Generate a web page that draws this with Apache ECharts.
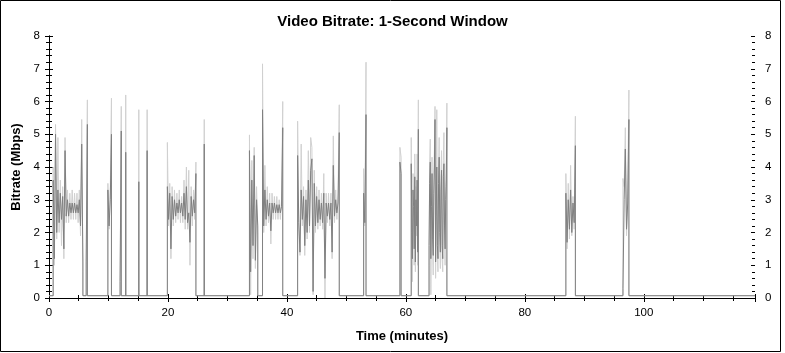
<!DOCTYPE html>
<html><head><meta charset="utf-8">
<script src="https://cdn.jsdelivr.net/npm/echarts@6/dist/echarts.min.js"></script>
<style>html,body{margin:0;padding:0;background:#fff}#c{width:785px;height:353px}</style>
</head><body><div id="c"></div>
<script>
// ---- data ----
const xMax = 118.7;          // minutes
const baseLevel = 0.07;      // idle bitrate between bursts
const yLabels = ['0','1','2','3','4','5','6','7','8'];
const xLabels = ['0','20','40','60','80','100'];

// burst start times (minutes) and sample spacing (minutes)
const burstStarts = [0.7, 6.25, 9.9, 11.95, 12.9, 15.1, 16.5, 19.9, 26.1, 33.7, 35.9, 41.8, 52.9, 59.0, 60.9, 63.9, 86.9, 96.5];
const burstSteps  = [0.2, 0.2, 0.2, 0.2, 0.2, 0.2, 0.2, 0.2, 0.2, 0.2, 0.2, 0.2, 0.2, 0.2, 0.1, 0.1, 0.2, 0.2];

// dark series (1-second bitrate), light series (peak) per burst
const aDark  = [3.6,1.2,5.0,2.0,3.3,2.3,3.2,2.4,3.1,1.5,4.5,2.5,3.0,2.5,2.9,2.6,2.9,2.6,2.9,2.6,2.85,2.6,3.0,2.2,4.7,1.1];
const aLight = [4.0,1.0,5.3,1.8,4.9,2.0,3.6,1.6,3.4,1.2,4.9,2.3,3.3,2.3,3.2,2.4,3.3,2.4,3.2,2.4,3.2,2.3,3.3,1.9,5.45,0.8];
const a2Dark = [1.1,5.3];          const a2Light = [0.9,6.05];
const s1Dark = [3.3,2.2,3.0,5.0];  const s1Light = [3.5,2.1,3.2,6.1];
const s2Dark = [0.5,5.1];          const s2Light = [0.4,5.85];
const s3Dark = [4.45];             const s3Light = [6.2];
const s4Dark = [3.55];             const s4Light = [5.75];
const s5Dark = [4.5];              const s5Light = [5.75];
const bDark  = [3.4,2.4,3.2,1.5,3.1,2.4,3.0,2.5,2.9,2.6,3.0,2.6,2.9,2.5,3.2,2.4,3.4,2.3,2.6,1.7,3.1,2.5,3.0,2.6,3.8];
const bLight = [4.75,2.2,3.5,1.2,3.4,2.2,3.3,2.3,3.2,2.4,3.3,2.3,3.1,2.3,3.6,2.1,4.0,2.1,3.9,1.0,3.4,2.2,3.3,2.4,4.15];
const s6Dark = [4.7];              const s6Light = [5.45];
const c1Dark  = [4.5,0.8,3.6,1.6,4.35,1.15,3.0,2.2];
const c1Light = [4.98,0.1,4.2,1.2,4.6,0.9,3.4,1.9];
const c2Dark  = [5.75,2.2,3.3,2.4,3.0,2.5,2.9,2.05,2.9,2.6,2.9,2.6,2.85,2.6,2.85,2.6,2.8,5.2];
const c2Light = [7.15,2.0,4.05,2.2,3.4,2.3,3.2,1.65,3.2,2.4,3.1,2.4,3.1,2.4,3.0,2.4,3.0,6.0];
const c3Dark  = [4.35,2.3,1.4,3.3,2.4,3.1,1.6,3.0,2.0,3.6,2.2,3.9,4.25,0.2,3.5,2.2,3.1,2.3,3.0,2.4,2.9,2.3,3.2,0.6,2.9,2.5,2.9,2.4,2.9,1.4,4.05,2.5,3.0,2.6,2.9,5.05];
const c3Light = [5.4,2.1,1.3,4.7,2.2,3.4,1.3,3.3,1.8,4.5,2.0,4.9,4.6,0.1,3.9,2.0,3.4,2.1,3.3,2.2,3.2,2.1,3.8,0.0,3.2,2.3,3.2,2.2,3.2,1.2,4.95,2.3,3.3,2.4,3.2,5.9];
const s7Dark = [3.2,2.3,5.6];      const s7Light = [3.95,2.2,7.2];
const d0Dark = [4.15,3.8];         const d0Light = [4.6,4.3];
const d1Dark  = [4.1,2.0,1.2,3.3,2.8,1.5,3.7,1.1,3.0,2.2,3.6,1.4,5.15];
const d1Light = [4.9,1.8,0.5,3.8,3.1,1.0,4.4,0.8,3.4,1.9,4.4,1.0,6.05];
const d2Dark  = [1.6,3.5,4.15,1.2,2.8,3.8,1.8,1.3,3.2,4.0,5.45,1.1,2.5,4.0,1.6,1.2,3.5,4.3,2.0,1.4,3.3,3.9,1.6,1.2,3.7,4.1,2.2,1.5,3.0,3.6,5.2];
const d2Light = [1.0,4.0,4.85,0.1,3.1,4.3,1.5,0.7,3.6,4.5,5.85,0.6,2.8,5.75,1.3,0.8,3.9,4.9,1.7,0.9,3.8,4.5,1.2,0.8,4.2,5.05,1.9,1.0,3.4,4.2,5.95];
const eDark  = [3.2,1.7,3.0,2.1,3.3,2.0,2.9,2.3,4.65];
const eLight = [3.8,1.5,3.5,1.8,4.05,1.9,3.1,2.1,5.55];
const fDark  = [0.3,3.0,4.55,2.1,2.9,5.45];
const fLight = [3.65,3.4,5.2,1.9,3.2,6.35];

const darkBursts  = [aDark,a2Dark,s1Dark,s2Dark,s3Dark,s4Dark,s5Dark,bDark,s6Dark,c1Dark,c2Dark,c3Dark,s7Dark,d0Dark,d1Dark,d2Dark,eDark,fDark];
const lightBursts = [aLight,a2Light,s1Light,s2Light,s3Light,s4Light,s5Light,bLight,s6Light,c1Light,c2Light,c3Light,s7Light,d0Light,d1Light,d2Light,eLight,fLight];

function build(bursts){
  const pts = [[0, baseLevel]];
  bursts.forEach((vals, k) => {
    const t0 = burstStarts[k], st = burstSteps[k];
    pts.push([t0, baseLevel]);
    vals.forEach((v, i) => pts.push([+(t0 + i*st).toFixed(3), v]));
    pts.push([+(t0 + (vals.length-1)*st).toFixed(3), baseLevel]);
  });
  pts.push([xMax, baseLevel]);
  return pts;
}

const FONT = "'Liberation Sans', Arial, sans-serif";
const chart = echarts.init(document.getElementById('c'), null, {renderer:'canvas'});

const xBase = {type:'value', min:0, max:xMax, interval:20, gridIndex:0};
const yBase = {type:'value', min:0, max:8, interval:1, gridIndex:0};
const noLabel = {show:false};
const blackLine = {show:true, lineStyle:{color:'#000', width:1}};

chart.setOption({
  animation:false,
  backgroundColor:'#fff',
  title:{text:'Video Bitrate: 1-Second Window', left:'center', top:9,
    textStyle:{fontFamily:FONT, fontSize:15, fontWeight:'bold', color:'#000'}},
  grid:{left:49, right:30, top:36, bottom:55},
  xAxis:[
    Object.assign({}, xBase, {position:'bottom', axisLine:blackLine,
      axisTick:{show:true, length:4, lineStyle:{color:'#000'}},
      minorTick:{show:true, splitNumber:4, length:3, lineStyle:{color:'#000'}},
      axisLabel:{show:true, margin:9, color:'#000', fontFamily:FONT, fontSize:11.5, showMaxLabel:false,
        formatter:(v)=> xLabels.indexOf(String(v))>=0 ? String(v) : ''},
      splitLine:{show:false},
      name:'Time (minutes)', nameLocation:'middle', nameGap:32,
      nameTextStyle:{fontFamily:FONT, fontSize:13, fontWeight:'bold', color:'#000'}}),
    Object.assign({}, xBase, {position:'bottom', axisLine:{show:false},
      axisTick:{show:true, inside:true, length:4, lineStyle:{color:'#000'}},
      minorTick:{show:true, splitNumber:4, length:3, lineStyle:{color:'#000'}},
      axisLabel:noLabel, splitLine:{show:false}}),
    Object.assign({}, xBase, {position:'top', axisLine:blackLine,
      axisTick:{show:true, inside:true, length:4, lineStyle:{color:'#000'}},
      minorTick:{show:true, splitNumber:4, length:3, lineStyle:{color:'#000'}},
      axisLabel:noLabel, splitLine:{show:false}})
  ],
  yAxis:[
    Object.assign({}, yBase, {position:'left', axisLine:blackLine,
      axisTick:{show:true, length:4, lineStyle:{color:'#000'}},
      minorTick:{show:true, splitNumber:5, length:3, lineStyle:{color:'#000'}},
      axisLabel:{show:true, margin:9, color:'#000', fontFamily:FONT, fontSize:11.5,
        formatter:(v)=> yLabels[Math.round(v)] || ''},
      splitLine:{show:false},
      name:'Bitrate (Mbps)', nameLocation:'middle', nameGap:25,
      nameTextStyle:{fontFamily:FONT, fontSize:13, fontWeight:'bold', color:'#000'}}),
    Object.assign({}, yBase, {position:'left', axisLine:{show:false},
      axisTick:{show:true, inside:true, length:4, lineStyle:{color:'#000'}},
      minorTick:{show:true, splitNumber:5, length:3, lineStyle:{color:'#000'}},
      axisLabel:noLabel, splitLine:{show:false}}),
    Object.assign({}, yBase, {position:'right', axisLine:blackLine,
      axisTick:{show:true, length:4, lineStyle:{color:'#000'}},
      minorTick:{show:true, splitNumber:5, length:3, lineStyle:{color:'#000'}},
      axisLabel:{show:true, margin:10, color:'#000', fontFamily:FONT, fontSize:11.5,
        formatter:(v)=> yLabels[Math.round(v)] || ''},
      splitLine:{show:false}}),
    Object.assign({}, yBase, {position:'right', axisLine:{show:false},
      axisTick:{show:true, inside:true, length:4, lineStyle:{color:'#000'}},
      minorTick:{show:true, splitNumber:5, length:3, lineStyle:{color:'#000'}},
      axisLabel:noLabel, splitLine:{show:false}})
  ],
  series:[
    {type:'line', name:'peak', xAxisIndex:0, yAxisIndex:0, data:build(lightBursts),
      showSymbol:false, symbol:'none', sampling:null,
      lineStyle:{color:'#d0d0d0', width:1}, z:2},
    {type:'line', name:'bitrate', xAxisIndex:0, yAxisIndex:0, data:build(darkBursts),
      showSymbol:false, symbol:'none', sampling:null,
      lineStyle:{color:'#808080', width:1}, z:3}
  ],
  graphic:[{type:'rect', shape:{x:0.5, y:0.5, width:780, height:351},
    style:{fill:'none', stroke:'#000', lineWidth:1}, z:100}]
});
</script></body></html>
